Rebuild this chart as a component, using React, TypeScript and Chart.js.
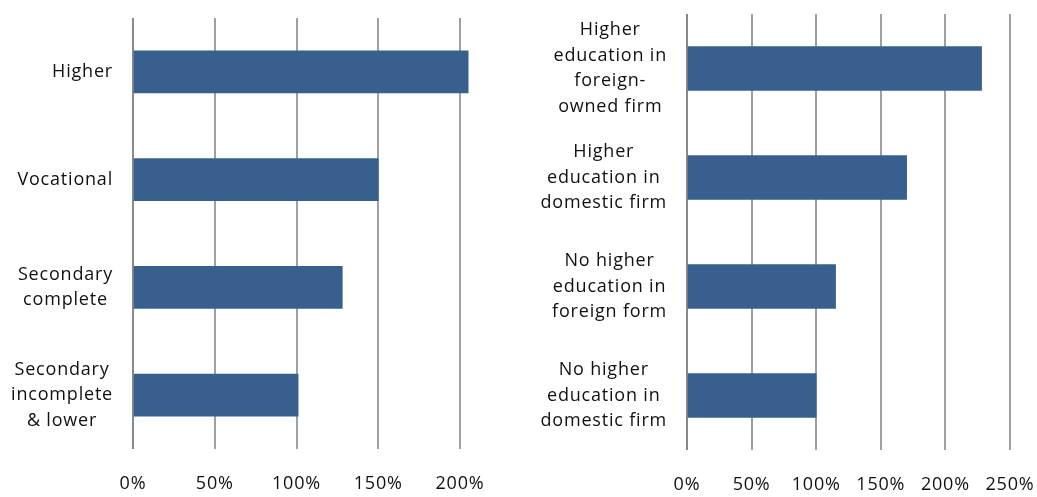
import React, { useEffect, useRef } from "react";
import { Chart, registerables } from "chart.js";

Chart.register(...registerables);

// ---- data ----
const leftCategories: string[][] = [
  ["Higher"],
  ["Vocational"],
  ["Secondary", "complete"],
  ["Secondary", "incomplete", "& lower"],
];
const leftValues: number[] = [205, 150, 128, 101];
const leftTicks: number[] = [0, 50, 100, 150, 200];

const rightCategories: string[][] = [
  ["Higher", "education in", "foreign-", "owned firm"],
  ["Higher", "education in", "domestic firm"],
  ["No higher", "education in", "foreign form"],
  ["No higher", "education in", "domestic firm"],
];
const rightValues: number[] = [228, 170, 115, 100];
const rightTicks: number[] = [0, 50, 100, 150, 200, 250];

// ---- style ----
const FONT = '"Open Sans", "Noto Sans", sans-serif';
const FONT_SIZE = 18;
const LINE_H = 25.5;
const SPACING = "0.8px";
const TEXT = "#111111";
const BAR = "#37608f";
const GRID = "#a0a0a0";
const GRID0 = "#8a8a8a";

type PanelCfg = {
  categories: string[][];
  values: number[];
  ticks: number[];
  yWidth: number;
  padRight: number;
  padTop: number;
  xHeight: number;
  barThickness: number;
};

function makeLabelPlugin(categories: string[][]) {
  return {
    id: "blockLabels",
    beforeDraw(chart: any) {
      (chart.ctx as any).letterSpacing = SPACING;
    },
    afterDraw(chart: any) {
      const scale = chart.scales.y;
      const ctx = chart.ctx as CanvasRenderingContext2D;
      ctx.save();
      (ctx as any).letterSpacing = SPACING;
      ctx.font = `${FONT_SIZE}px ${FONT}`;
      ctx.fillStyle = TEXT;
      ctx.textAlign = "center";
      ctx.textBaseline = "middle";
      const right = chart.chartArea.left - 20;
      categories.forEach((lines, i) => {
        const y = scale.getPixelForTick(i);
        const w = Math.max(...lines.map((l) => ctx.measureText(l).width));
        const cx = right - w / 2;
        const total = lines.length * LINE_H;
        lines.forEach((l, j) => {
          ctx.fillText(l, cx, y - total / 2 + LINE_H * (j + 0.5));
        });
      });
      ctx.restore();
    },
  };
}

function Panel({ cfg, width, height }: { cfg: PanelCfg; width: number; height: number }) {
  const ref = useRef<HTMLCanvasElement | null>(null);
  useEffect(() => {
    if (!ref.current) return;
    const maxV = cfg.ticks[cfg.ticks.length - 1];
    const chart = new Chart(ref.current, {
      type: "bar",
      data: {
        labels: cfg.categories.map((c) => c.join(" ")),
        datasets: [
          {
            data: cfg.values,
            backgroundColor: BAR,
            borderWidth: 0,
            barThickness: cfg.barThickness,
            clip: false as any,
          },
        ],
      },
      plugins: [makeLabelPlugin(cfg.categories)],
      options: {
        indexAxis: "y",
        responsive: false,
        animation: false,
        layout: { padding: { top: cfg.padTop, right: cfg.padRight, left: 0, bottom: 0 } },
        plugins: { legend: { display: false }, tooltip: { enabled: false } },
        scales: {
          x: {
            min: 0,
            max: maxV,
            afterBuildTicks: (scale: any) => {
              scale.ticks = cfg.ticks.map((v) => ({ value: v }));
            },
            afterFit: (scale: any) => {
              scale.height = cfg.xHeight;
              scale.paddingLeft = 0;
              scale.paddingRight = 0;
            },
            ticks: {
              padding: 24,
              color: TEXT,
              font: { family: FONT, size: FONT_SIZE },
              maxRotation: 0,
              autoSkip: false,
              callback: (v: any) => `${v}%`,
            },
            grid: {
              drawTicks: false,
              lineWidth: 2,
              color: (c: any) => (c.index === 0 ? GRID0 : GRID),
            },
            border: { display: false },
          },
          y: {
            afterFit: (scale: any) => {
              scale.width = cfg.yWidth;
            },
            ticks: { display: false },
            grid: { display: false },
            border: { display: false },
          },
        },
      },
    });
    return () => chart.destroy();
  }, [cfg]);
  return <canvas ref={ref} width={width} height={height} style={{ display: "block" }} />;
}

const leftCfg: PanelCfg = {
  categories: leftCategories,
  values: leftValues,
  ticks: leftTicks,
  yWidth: 133,
  padRight: 60,
  padTop: 18,
  xHeight: 48,
  barThickness: 42,
};

const rightCfg: PanelCfg = {
  categories: rightCategories,
  values: rightValues,
  ticks: rightTicks,
  yWidth: 167,
  padRight: 27,
  padTop: 14,
  xHeight: 47,
  barThickness: 44,
};

export default function App() {
  return (
    <div
      style={{
        position: "fixed",
        left: 0,
        top: 0,
        width: 1037,
        height: 497,
        background: "#ffffff",
      }}
    >
      <div style={{ position: "absolute", left: 0, top: 0 }}>
        <Panel cfg={leftCfg} width={520} height={497} />
      </div>
      <div style={{ position: "absolute", left: 520, top: 0 }}>
        <Panel cfg={rightCfg} width={517} height={497} />
      </div>
    </div>
  );
}
